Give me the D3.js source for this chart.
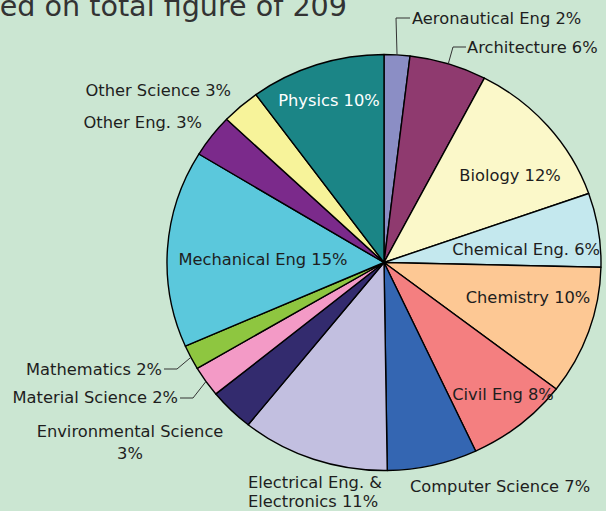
<!DOCTYPE html>
<html>
<head>
<meta charset="utf-8">
<script src="https://cdn.jsdelivr.net/npm/d3@7"></script>
<style>
	body { margin: 0; background: #cbe6d2; }
	svg { display: block; }
	text { font-family: "DejaVu Sans", sans-serif; fill: #1e1e1e; }
</style>
</head>
<body>
<div id="svg-container"></div>
<script>
// student numbers by subject, total 209
var categories = ["Aeronautical Eng", "Architecture", "Biology", "Chemical Eng.", "Chemistry",
	"Civil Eng", "Computer Science", "Electrical Eng. & Electronics", "Environmental Science",
	"Material Science", "Mathematics", "Mechanical Eng", "Other Eng.", "Other Science", "Physics"];
var counts = [4, 12, 25, 12, 21, 16, 14, 23, 7, 5, 4, 32, 7, 6, 21];
var total = 209;
var colors = ["#8b8ec5", "#8f3a6f", "#fbf8c9", "#c4e8ee", "#fdc894", "#f47f80", "#3466b2",
	"#c2bfe0", "#332b6e", "#f39ac6", "#8ec640", "#5bc8dc", "#7b2a8b", "#f7f39a", "#1b8586"];

var width = 606, height = 511;
var cx = 384, cy = 262.5, rx = 217, ry = 208;
var fontSize = 16.3;

// label layout: x, y baseline, anchor, line breaks, optional leader elbow
var labelPos = [
	{x: 412, y: 24, anchor: "start", elbow: [[396, 18], [410, 18]]},
	{x: 467, y: 53, anchor: "start", elbow: [[453, 47], [466, 47]]},
	{x: 510, y: 181, anchor: "middle"},
	{x: 600, y: 255, anchor: "end"},
	{x: 528, y: 303, anchor: "middle"},
	{x: 503, y: 400, anchor: "middle"},
	{x: 500, y: 492, anchor: "middle"},
	{x: 248, y: 488, anchor: "start", lines: ["Electrical Eng. &", "Electronics 11%"], lead: 19},
	{x: 130, y: 437, anchor: "middle", lines: ["Environmental Science", "3%"], lead: 22},
	{x: 178, y: 403, anchor: "end", elbow: [[193, 398], [180, 398]]},
	{x: 162, y: 375, anchor: "end", elbow: [[177, 369], [164, 369]]},
	{x: 263, y: 265, anchor: "middle"},
	{x: 202, y: 128, anchor: "end"},
	{x: 231, y: 96, anchor: "end"},
	{x: 329, y: 106, anchor: "middle", fill: "#ffffff"}
];

var svg = d3.select("#svg-container").append("svg")
	.attr("width", width)
	.attr("height", height);

svg.append("rect")
	.attr("width", width)
	.attr("height", height)
	.attr("fill", "#cbe6d2");

// title, cut by the left edge like the original
svg.append("text")
	.attr("x", 347)
	.attr("y", 16)
	.attr("text-anchor", "end")
	.style("font-size", "28.6px")
	.style("fill", "#333333")
	.text("Based on total figure of 209");

var pie = d3.pie().sort(null).value(function(d){ return d; });
var arcs = pie(counts);
var arc = d3.arc().innerRadius(0).outerRadius(ry);

var g = svg.append("g")
	.attr("transform", "translate(" + cx + "," + cy + ") scale(" + (rx / ry) + ",1)");

g.selectAll("path")
	.data(arcs)
	.enter()
	.append("path")
	.attr("d", arc)
	.attr("fill", function(d, i){ return colors[i]; })
	.attr("stroke", "#000")
	.attr("stroke-width", 1.4)
	.attr("stroke-linejoin", "round")
	.attr("vector-effect", "non-scaling-stroke");

function edgePoint(a) {
	return [cx + rx * Math.sin(a), cy - ry * Math.cos(a)];
}

// leader lines
var line = d3.line();
arcs.forEach(function(d, i){
	var p = labelPos[i];
	if (!p.elbow) return;
	var mid = (d.startAngle + d.endAngle) / 2;
	svg.append("path")
		.attr("d", line([edgePoint(mid)].concat(p.elbow)))
		.attr("fill", "none")
		.attr("stroke", "#333")
		.attr("stroke-width", 1);
});

// labels
arcs.forEach(function(d, i){
	var p = labelPos[i];
	var pct = Math.round(counts[i] / total * 100) + "%";
	var lines = p.lines || [categories[i] + " " + pct];
	var t = svg.append("text")
		.attr("x", p.x)
		.attr("y", p.y)
		.attr("text-anchor", p.anchor)
		.style("font-size", fontSize + "px");
	if (p.fill) t.style("fill", p.fill);
	lines.forEach(function(l, j){
		t.append("tspan")
			.attr("x", p.x)
			.attr("dy", j === 0 ? 0 : p.lead)
			.text(l);
	});
});
</script>
</body>
</html>
